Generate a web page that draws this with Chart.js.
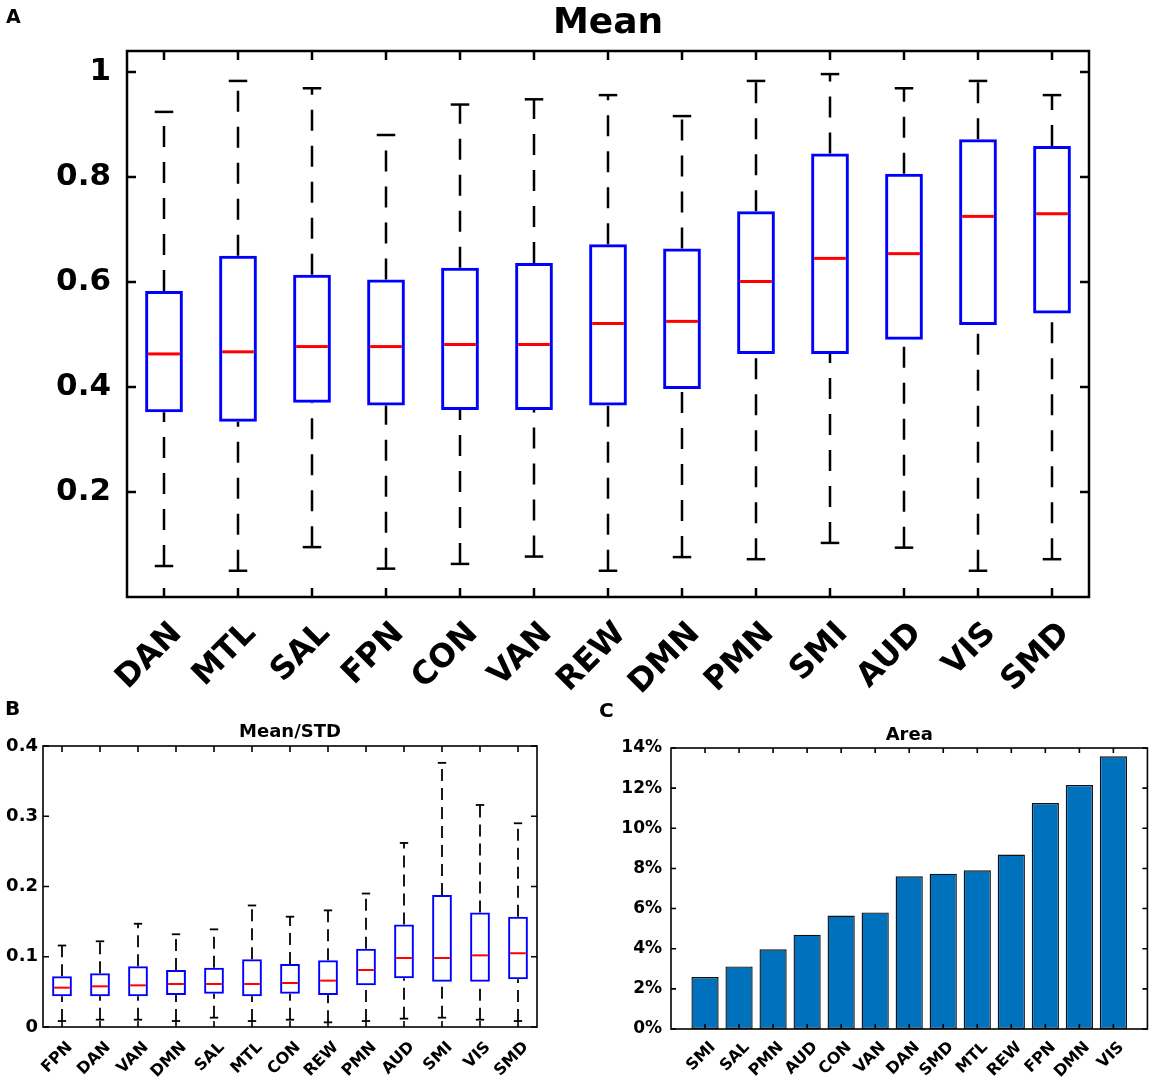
<!DOCTYPE html>
<html>
<head>
<meta charset="utf-8">
<script src="https://cdn.jsdelivr.net/npm/chart.js@4.4.0/dist/chart.umd.min.js"></script>
<style>
  body { margin: 0; background: #fff; }
  #wrap { position: relative; width: 1170px; height: 1087px; font-family: 'DejaVu Sans', sans-serif; }
  canvas { position: absolute; }
  .tag { position: absolute; font-weight: bold; line-height: 1; color: #000; }
</style>
</head>
<body>
<div id="wrap">
  <canvas id="chartA" width="1170" height="700" style="left:0;top:0"></canvas>
  <canvas id="chartB" width="580" height="397" style="left:0;top:690px"></canvas>
  <canvas id="chartC" width="590" height="397" style="left:580px;top:690px"></canvas>
  <div class="tag" style="left:6px;top:7px;font-size:19px">A</div>
  <div class="tag" style="left:5px;top:698px;font-size:20px">B</div>
  <div class="tag" style="left:599px;top:700px;font-size:20px">C</div>
</div>
<script>
// panel A - Mean
const meanNets = ['DAN', 'MTL', 'SAL', 'FPN', 'CON', 'VAN', 'REW', 'DMN', 'PMN', 'SMI', 'AUD', 'VIS', 'SMD'];
const meanLow = [0.059, 0.050, 0.095, 0.054, 0.063, 0.077, 0.050, 0.076, 0.072, 0.103, 0.094, 0.050, 0.072];
const meanQ1 = [0.352, 0.334, 0.370, 0.365, 0.356, 0.356, 0.365, 0.396, 0.463, 0.463, 0.490, 0.518, 0.540];
const meanMedian = [0.463, 0.467, 0.477, 0.477, 0.481, 0.481, 0.521, 0.525, 0.601, 0.645, 0.654, 0.725, 0.730];
const meanQ3 = [0.583, 0.650, 0.614, 0.605, 0.627, 0.636, 0.672, 0.664, 0.735, 0.845, 0.806, 0.872, 0.859];
const meanHigh = [0.924, 0.983, 0.969, 0.880, 0.938, 0.948, 0.956, 0.916, 0.983, 0.996, 0.969, 0.983, 0.956];
const meanTicks = [0.2, 0.4, 0.6, 0.8, 1];

// panel B - Mean/STD
const ratioNets = ['FPN', 'DAN', 'VAN', 'DMN', 'SAL', 'MTL', 'CON', 'REW', 'PMN', 'AUD', 'SMI', 'VIS', 'SMD'];
const ratioLow = [0.0085, 0.0104, 0.0104, 0.0085, 0.0133, 0.0085, 0.0104, 0.0066, 0.0085, 0.0119, 0.0133, 0.0104, 0.0085];
const ratioQ1 = [0.0437, 0.0437, 0.0437, 0.0456, 0.0474, 0.0437, 0.0474, 0.0456, 0.0593, 0.0693, 0.0645, 0.0645, 0.0679];
const ratioMedian = [0.056, 0.0579, 0.0593, 0.0612, 0.0612, 0.0612, 0.0626, 0.066, 0.0811, 0.0982, 0.0982, 0.102, 0.105];
const ratioQ3 = [0.0721, 0.0764, 0.0864, 0.0811, 0.0845, 0.0963, 0.0897, 0.0949, 0.1115, 0.146, 0.188, 0.163, 0.157];
const ratioHigh = [0.116, 0.122, 0.147, 0.132, 0.139, 0.173, 0.157, 0.166, 0.190, 0.262, 0.376, 0.316, 0.290];
const ratioTicks = [0, 0.1, 0.2, 0.3, 0.4];

// panel C - Area (%)
const areaNets = ['SMI', 'SAL', 'PMN', 'AUD', 'CON', 'VAN', 'DAN', 'SMD', 'MTL', 'REW', 'FPN', 'DMN', 'VIS'];
const areaValues = [2.59, 3.12, 3.97, 4.70, 5.65, 5.81, 7.61, 7.74, 7.91, 8.69, 11.26, 12.16, 13.59];
const areaTicks = [0, 2, 4, 6, 8, 10, 12, 14];

const FONT = 'DejaVu Sans';

function line(ctx, x1, y1, x2, y2) {
    ctx.beginPath();
    ctx.moveTo(x1, y1);
    ctx.lineTo(x2, y2);
    ctx.stroke();
}

// whiskers, caps and medians on top of the floating-bar boxes
function boxPlugin(low, median, high, look) {
    return {
        id: 'boxes',
        afterDatasetsDraw(chart) {
            const { ctx, scales: { x, y } } = chart;
            const bars = chart.getDatasetMeta(0).data;
            const box = chart.data.datasets[0].data;
            const step = x.getPixelForValue(1) - x.getPixelForValue(0);
            const c = step * look.cap / 2;
            ctx.save();
            bars.forEach((bar, i) => {
                const cx = bar.x;
                const yLow = y.getPixelForValue(low[i]);
                const yHigh = y.getPixelForValue(high[i]);
                ctx.strokeStyle = '#000';
                ctx.lineWidth = look.whisker;
                ctx.setLineDash(look.dash);
                // matlab draws both whiskers from bottom to top
                line(ctx, cx, yLow, cx, y.getPixelForValue(box[i][0]));
                line(ctx, cx, y.getPixelForValue(box[i][1]), cx, yHigh);
                ctx.setLineDash([]);
                line(ctx, cx - c, yLow, cx + c, yLow);
                line(ctx, cx - c, yHigh, cx + c, yHigh);
                ctx.strokeStyle = '#ff0000';
                ctx.lineWidth = look.median;
                const m = bar.width / 2 - look.box;
                const ym = y.getPixelForValue(median[i]);
                line(ctx, cx - m, ym, cx + m, ym);
            });
            ctx.restore();
        }
    };
}

// box frame with inward tick marks, title centred over the plot area
function framePlugin(len, width, title, titleSize, titleGap) {
    return {
        id: 'frame',
        afterDraw(chart) {
            const { ctx, chartArea: a, scales: { x, y } } = chart;
            ctx.save();
            ctx.strokeStyle = '#000';
            ctx.lineWidth = width;
            ctx.beginPath();
            x.ticks.forEach((t, i) => {
                if (t.label === '') return;
                const px = x.getPixelForTick(i);
                ctx.moveTo(px, a.top); ctx.lineTo(px, a.top + len);
                ctx.moveTo(px, a.bottom); ctx.lineTo(px, a.bottom - len);
            });
            y.ticks.forEach(t => {
                const py = y.getPixelForValue(t.value);
                ctx.moveTo(a.left, py); ctx.lineTo(a.left + len, py);
                ctx.moveTo(a.right, py); ctx.lineTo(a.right - len, py);
            });
            ctx.stroke();
            ctx.strokeRect(a.left, a.top, a.right - a.left, a.bottom - a.top);
            ctx.fillStyle = '#000';
            ctx.font = 'bold ' + titleSize + 'px "' + FONT + '"';
            ctx.textAlign = 'center';
            ctx.textBaseline = 'alphabetic';
            ctx.fillText(title, (a.left + a.right) / 2, a.top - titleGap);
            ctx.restore();
        }
    };
}

function boxChart(id, cfg) {
    return new Chart(document.getElementById(id), {
        type: 'bar',
        data: {
            labels: cfg.labels,
            datasets: [{
                data: cfg.q1.map((v, i) => [v, cfg.q3[i]]),
                backgroundColor: 'rgba(0,0,0,0)',
                borderColor: '#0000ff',
                borderWidth: cfg.look.box,
                borderSkipped: false,
                barPercentage: cfg.look.boxWidth,
                categoryPercentage: 1
            }]
        },
        options: {
            responsive: false,
            animation: false,
            events: [],
            layout: { padding: cfg.padding },
            plugins: {
                legend: { display: false },
                tooltip: { enabled: false }
            },
            scales: {
                x: {
                    offset: true,
                    grid: { display: false, drawTicks: false },
                    border: { display: false },
                    afterFit: s => { s.height = cfg.xHeight; },
                    ticks: {
                        color: '#000',
                        autoSkip: false,
                        minRotation: 45,
                        maxRotation: 45,
                        labelOffset: cfg.labelOffset,
                        padding: cfg.xPad,
                        font: { family: FONT, size: cfg.xSize, weight: 'bold' }
                    }
                },
                y: {
                    min: cfg.min,
                    max: cfg.max,
                    grid: { display: false, drawTicks: false },
                    border: { display: false },
                    afterFit: s => { s.width = cfg.yWidth; },
                    afterBuildTicks: s => { s.ticks = cfg.ticks.map(v => ({ value: v })); },
                    ticks: {
                        color: '#000',
                        padding: cfg.yPad,
                        callback: v => String(v),
                        font: { family: FONT, size: cfg.ySize, weight: 'bold' }
                    }
                }
            }
        },
        plugins: [
            boxPlugin(cfg.low, cfg.median, cfg.high, cfg.look),
            framePlugin(cfg.tickLen, cfg.frameWidth, cfg.title, cfg.titleSize, cfg.titleGap)
        ]
    });
}

boxChart('chartA', {
    labels: meanNets, q1: meanQ1, q3: meanQ3, low: meanLow, median: meanMedian, high: meanHigh,
    ticks: meanTicks, min: 0, max: 1.04, title: 'Mean', titleSize: 36, titleGap: 18,
    padding: { left: 0, right: 81, top: 51, bottom: 0 },
    xHeight: 103, yWidth: 127, xSize: 32, ySize: 31, xPad: 18, yPad: 16, labelOffset: 13,
    tickLen: 9, frameWidth: 2.5,
    look: { box: 3, boxWidth: 0.51, whisker: 2.5, dash: [21, 15], cap: 0.25, median: 3 }
});

boxChart('chartB', {
    labels: ratioNets, q1: ratioQ1, q3: ratioQ3, low: ratioLow, median: ratioMedian, high: ratioHigh,
    ticks: ratioTicks, min: 0, max: 0.4, title: 'Mean/STD', titleSize: 18, titleGap: 9,
    padding: { left: 0, right: 43, top: 56, bottom: 0 },
    xHeight: 60, yWidth: 43, xSize: 16, ySize: 18, xPad: 11, yPad: 5, labelOffset: 8,
    tickLen: 6, frameWidth: 1.6,
    look: { box: 2, boxWidth: 0.52, whisker: 1.8, dash: [12, 7], cap: 0.22, median: 2 }
});

// panel C: matlab xlim is [0, 14], so pad the category axis with blank ends
new Chart(document.getElementById('chartC'), {
    type: 'bar',
    data: {
        labels: [''].concat(areaNets, ['']),
        datasets: [{
            data: [null].concat(areaValues, [null]),
            backgroundColor: '#0072bd',
            borderColor: '#111',
            borderWidth: 1.4,
            borderSkipped: false,
            barPercentage: 0.8,
            categoryPercentage: 1
        }]
    },
    options: {
        responsive: false,
        animation: false,
        events: [],
        layout: { padding: { left: 0, right: 6, top: 58, bottom: 0 } },
        plugins: {
            legend: { display: false },
            tooltip: { enabled: false }
        },
        scales: {
            x: {
                offset: false,
                grid: { display: false, drawTicks: false },
                border: { display: false },
                afterFit: s => { s.height = 58; },
                ticks: {
                    color: '#000',
                    autoSkip: false,
                    minRotation: 45,
                    maxRotation: 45,
                    labelOffset: 8,
                    padding: 9,
                    font: { family: FONT, size: 16, weight: 'bold' }
                }
            },
            y: {
                min: 0,
                max: 14,
                grid: { display: false, drawTicks: false },
                border: { display: false },
                afterFit: s => { s.width = 91; },
                afterBuildTicks: s => { s.ticks = areaTicks.map(v => ({ value: v })); },
                ticks: {
                    color: '#000',
                    padding: 9,
                    callback: v => v + '%',
                    font: { family: FONT, size: 17, weight: 'bold' }
                }
            }
        }
    },
    plugins: [framePlugin(5, 1.6, 'Area', 18, 8)]
});
</script>
</body>
</html>
